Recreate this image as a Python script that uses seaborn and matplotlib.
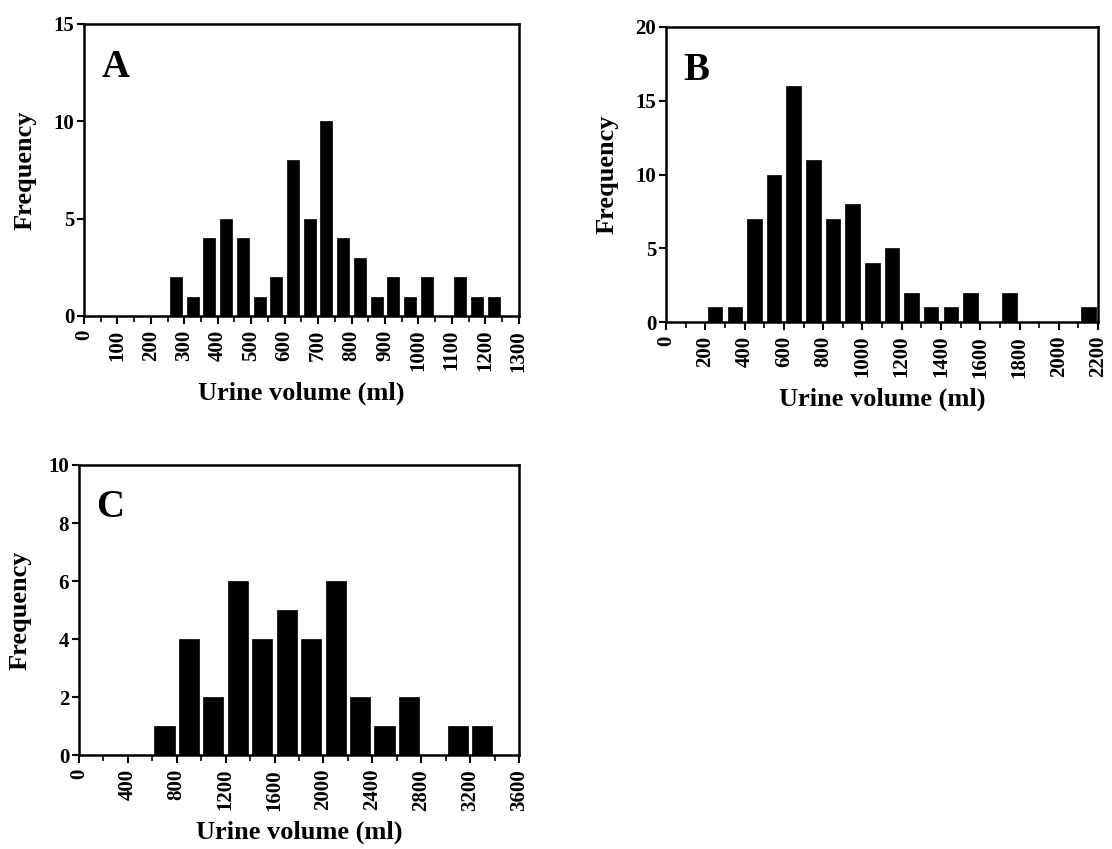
import numpy as np
import pandas as pd
import matplotlib
matplotlib.use("Agg")
import matplotlib.pyplot as plt
import seaborn as sns
from matplotlib.ticker import MultipleLocator

# ---- data (counts per bin) ----
a_bin_width = 50
a_counts = [0, 0, 0, 0, 0, 2, 1, 4, 5, 4, 1, 2, 8, 5, 10, 4, 3, 1, 2, 1, 2, 0, 2, 1, 1, 0]
a_xticks = list(range(0, 1301, 100))
a_yticks = [0, 5, 10, 15]

b_bin_width = 100
b_counts = [0, 0, 1, 1, 7, 10, 16, 11, 7, 8, 4, 5, 2, 1, 1, 2, 0, 2, 0, 0, 0, 1]
b_xticks = list(range(0, 2201, 200))
b_yticks = [0, 5, 10, 15, 20]

c_bin_width = 200
c_counts = [0, 0, 0, 1, 4, 2, 6, 4, 5, 4, 6, 2, 1, 2, 0, 1, 1, 0]
c_xticks = list(range(0, 3601, 400))
c_yticks = [0, 2, 4, 6, 8, 10]

panel_letters = ["A", "B", "C"]
x_label = "Urine volume (ml)"
y_label = "Frequency"

sns.set_style("ticks")
plt.rcParams["font.family"] = ["Liberation Serif", "DejaVu Serif"]
plt.rcParams["font.weight"] = "bold"
plt.rcParams["text.color"] = "black"
plt.rcParams["axes.labelcolor"] = "black"
plt.rcParams["xtick.color"] = "black"
plt.rcParams["ytick.color"] = "black"
plt.rcParams["axes.edgecolor"] = "black"

fig = plt.figure(figsize=(11.12, 8.49), dpi=100)
axA = fig.add_axes([0.0755, 0.6278, 0.391, 0.344])
axB = fig.add_axes([0.599, 0.6207, 0.3885, 0.3475])
axC = fig.add_axes([0.071, 0.1107, 0.3957, 0.3416])

panels = [
    (axA, a_bin_width, a_counts, a_xticks, a_yticks, 0.72),
    (axB, b_bin_width, b_counts, b_xticks, b_yticks, 0.74),
    (axC, c_bin_width, c_counts, c_xticks, c_yticks, 0.82),
]

for (ax, bw, counts, xt, yt, shrink), letter in zip(panels, panel_letters):
    n = len(counts)
    upper = float(n * bw)
    df = pd.DataFrame({"volume": [bw * (i + 0.5) for i in range(n)],
                       "count": [float(c) for c in counts]})
    sns.histplot(data=df, x="volume", weights="count",
                 binwidth=float(bw), binrange=(0.0, upper),
                 shrink=shrink, color="black", edgecolor="black",
                 linewidth=0.5, alpha=1.0, ax=ax)
    ax.set_xlim(0, upper)
    ax.set_ylim(0, yt[-1])
    ax.set_xticks(xt)
    ax.set_xticklabels([str(v) for v in xt], rotation=90, fontsize=15,
                       fontweight="bold", color="black")
    ax.xaxis.set_minor_locator(MultipleLocator(xt[1] / 2))
    ax.set_yticks(yt)
    ax.set_yticklabels([str(v) for v in yt], fontsize=15, fontweight="bold",
                       color="black")
    ax.tick_params(axis="x", which="major", direction="out", length=6,
                   width=1.5, pad=4, colors="black")
    ax.tick_params(axis="x", which="minor", direction="out", length=4,
                   width=1.2, colors="black")
    ax.tick_params(axis="y", which="major", direction="out", length=5,
                   width=1.5, pad=2, colors="black")
    for sp in ax.spines.values():
        sp.set_visible(True)
        sp.set_linewidth(1.8)
        sp.set_color("black")
    ax.set_xlabel(x_label, fontsize=19, fontweight="bold", labelpad=7,
                  color="black")
    ax.set_ylabel(y_label, fontsize=19, fontweight="bold", labelpad=12,
                  color="black")
    ax.text(0.04, 0.82, letter, transform=ax.transAxes, fontsize=28,
            fontweight="bold", ha="left", va="baseline", color="black")

fig.savefig("out.png", dpi=100)
